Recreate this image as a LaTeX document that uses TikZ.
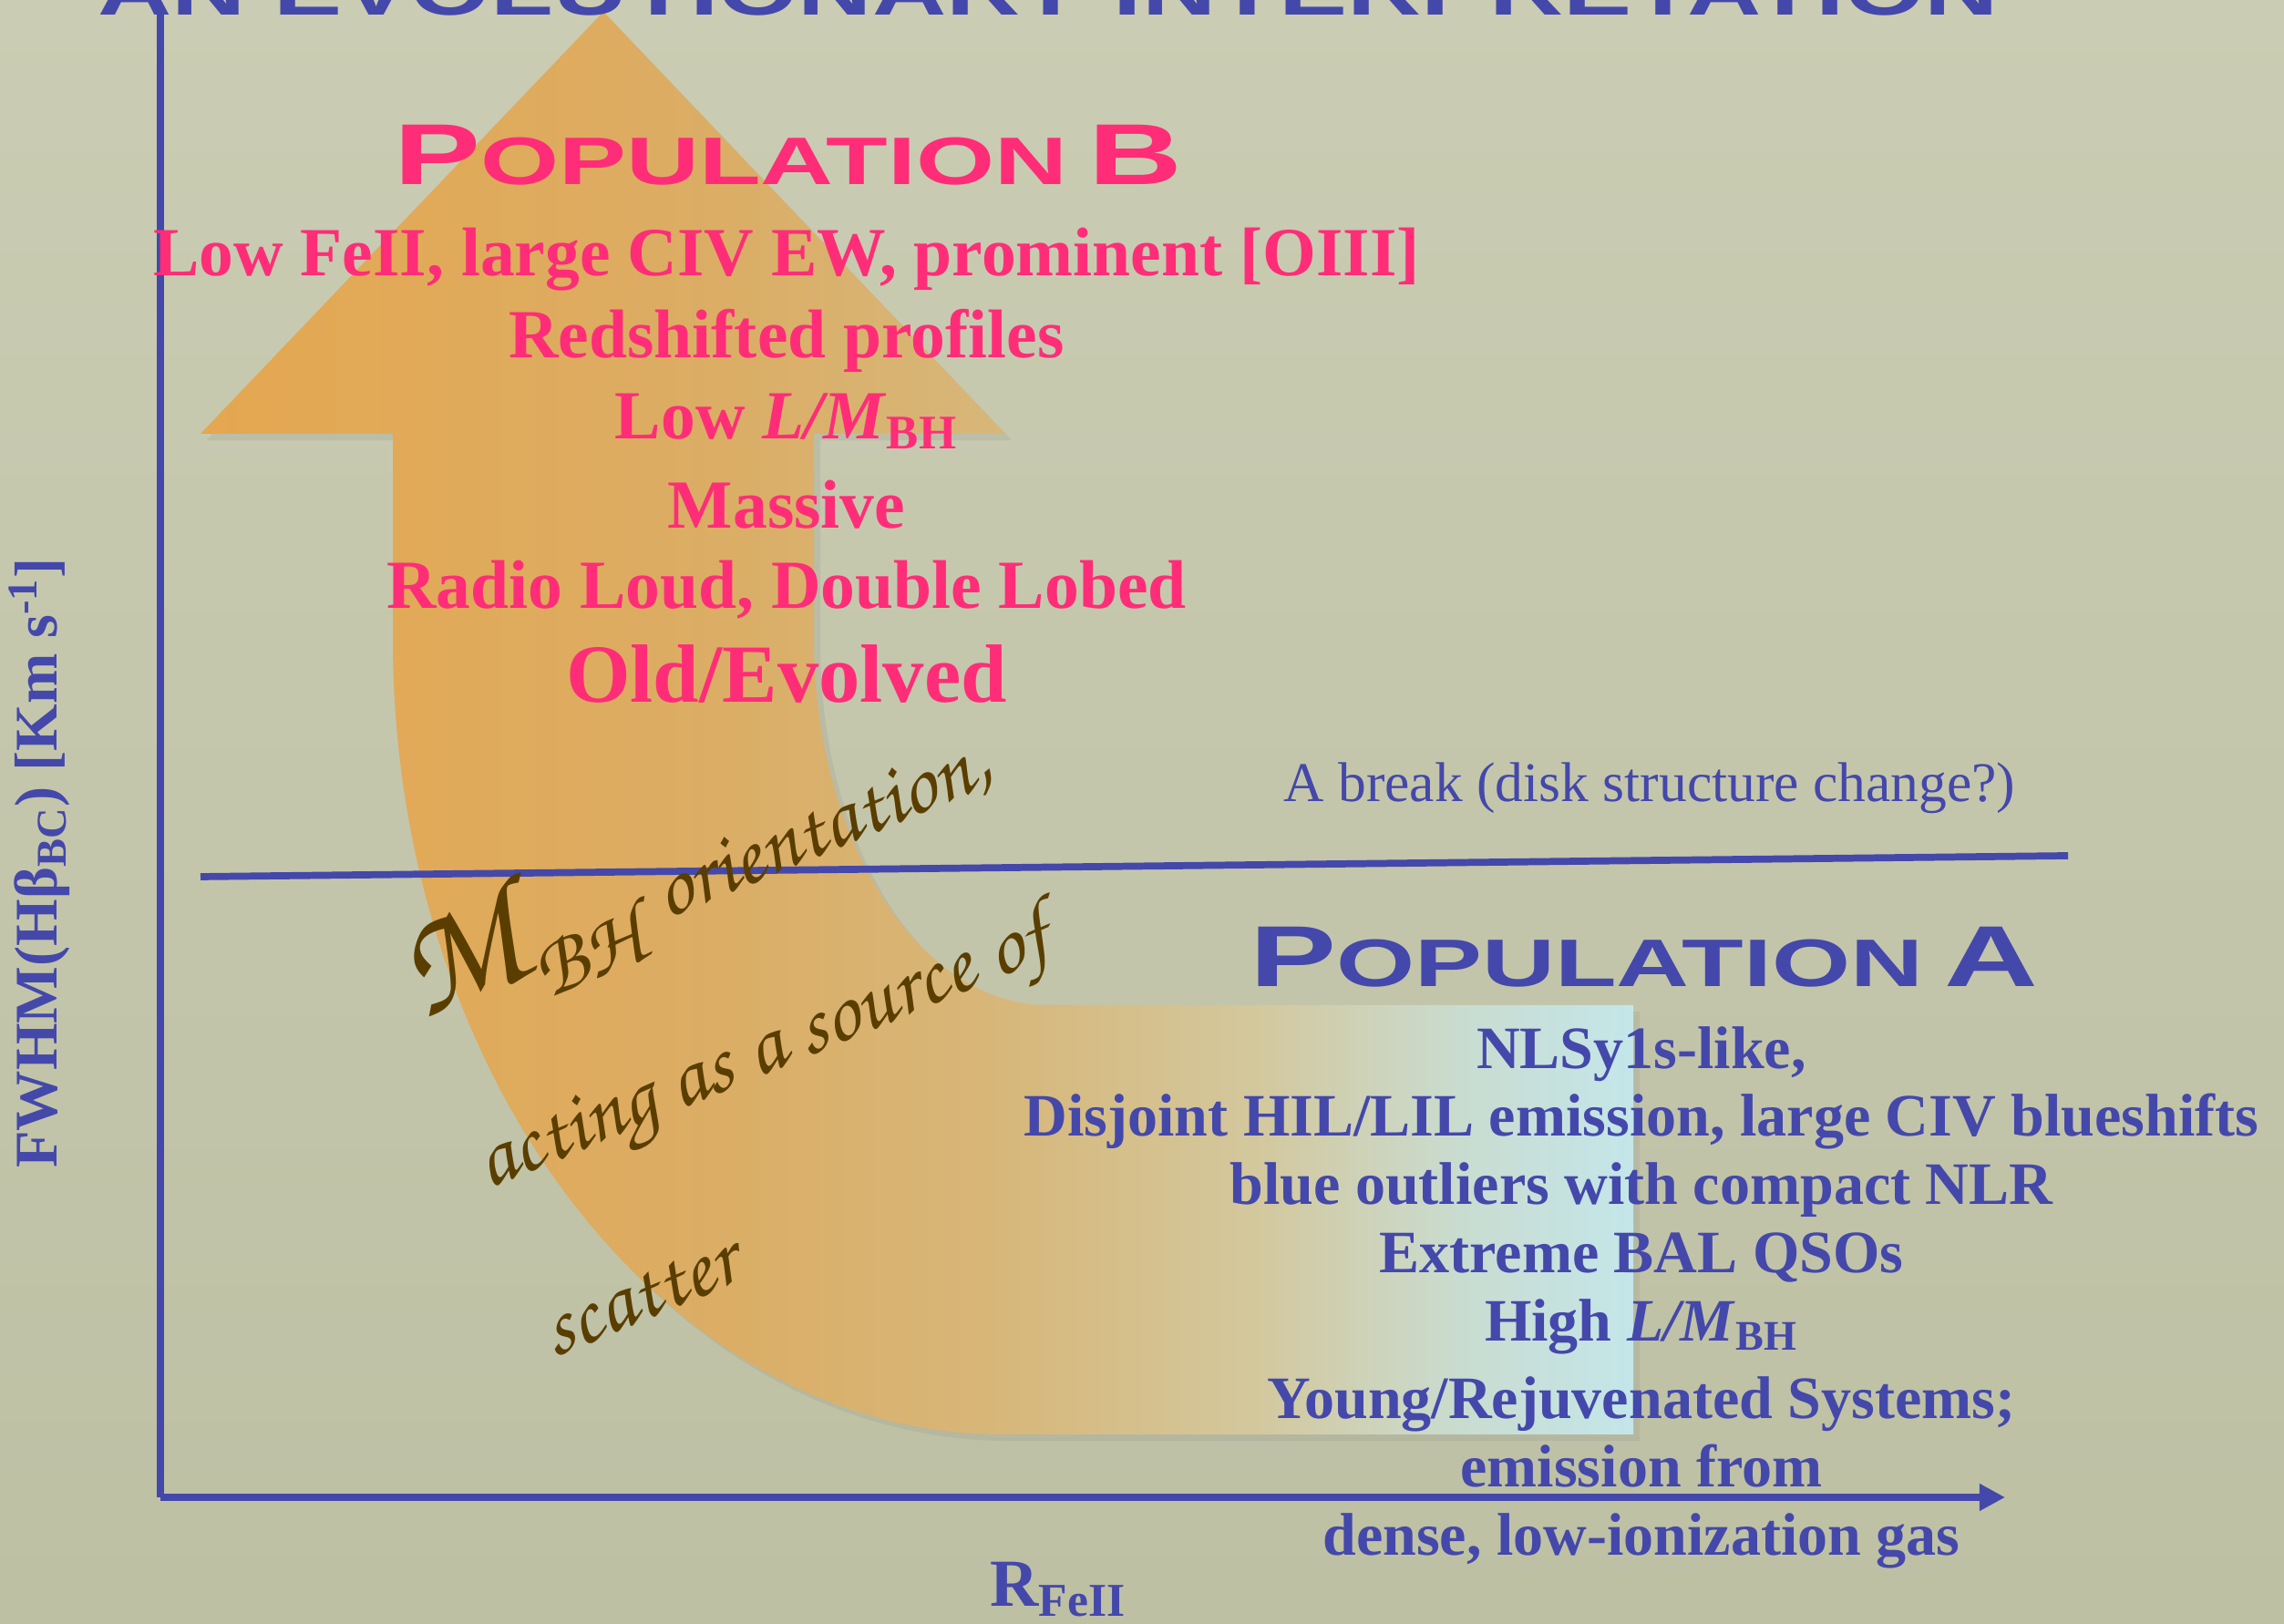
\documentclass[tikz,border=0pt]{standalone}
\usepackage[T1]{fontenc}
\usepackage{fontspec}
\setmainfont{Liberation Serif}
\newfontfamily\capsfont{Liberation Sans}
\usepackage{xcolor}
\usepackage{tikz}
\usetikzlibrary{arrows.meta, shadows}

\definecolor{slideBg}{RGB}{202,204,179}
\definecolor{slideBgLow}{RGB}{189,192,163}
\definecolor{axisBlue}{RGB}{68,72,170}
\definecolor{popPink}{RGB}{255,45,120}
\definecolor{inkBrown}{RGB}{90,62,0}
\definecolor{arrowA}{RGB}{229,167,80}
\definecolor{arrowB}{RGB}{219,173,101}
\definecolor{arrowC}{RGB}{215,183,122}
\definecolor{arrowD}{RGB}{211,200,158}
\definecolor{arrowE}{RGB}{201,220,208}
\definecolor{arrowF}{RGB}{196,230,233}

% orange -> sand -> pale cyan, left to right
\pgfdeclarehorizontalshading{arrowfade}{100bp}{color(0bp)=(arrowA); color(25bp)=(arrowA);
  color(43bp)=(arrowB); color(53bp)=(arrowC); color(62bp)=(arrowD); color(69bp)=(arrowE);
  color(75bp)=(arrowF); color(100bp)=(arrowF)}

\newcommand{\popname}[1]{{\fontsize{27}{27}\selectfont P}{\fontsize{21}{21}\selectfont OPULATION}\hspace{0.45em}{\fontsize{27}{27}\selectfont #1}}
\newcommand{\calligr}{\fontencoding{T1}\fontfamily{pzc}\fontseries{mb}\fontshape{it}\selectfont}

\begin{document}
\begin{tikzpicture}[
      axisline/.style={
          draw=axisBlue,
          line width=2.2pt
      },
      popbox/.style={
          font=\capsfont\bfseries,
          xscale=1.5,
          anchor=base
      },
      pinkline/.style={
          text=popPink,
          font=\bfseries\fontsize{21.5}{25}\selectfont,
          anchor=base
      },
      blueline/.style={
          text=axisBlue,
          font=\bfseries\fontsize{18.8}{21}\selectfont,
          anchor=base
      },
      inkline/.style={
          text=inkBrown,
          font=\calligr\fontsize{27}{30}\selectfont,
          rotate=22.5,
          anchor=base west,
          inner sep=0pt
      }
  ]
      % --- Slide background ---
      \shade[top color=slideBg, bottom color=slideBgLow] (-1.76,-1.39) rectangle (23.30,16.43);
      \useasboundingbox (-1.76,-1.39) rectangle (23.30,16.43);

      % --- Bent arrow: up from Population A to Population B ---
      \shade[shading=arrowfade, drop shadow={opacity=0.15, shadow xshift=2pt, shadow yshift=-2pt}]
          (4.86,16.30) -- (9.27,11.67) -- (7.17,11.67) -- (7.17,9.43)
          arc[start angle=180, end angle=270, x radius=2.57, y radius=4.03]
          -- (16.16,5.40) -- (16.16,0.69) -- (9.24,0.69)
          arc[start angle=270, end angle=180, x radius=6.69, y radius=8.74]
          -- (2.55,11.67) -- (0.44,11.67) -- cycle;

      % --- Axes and break ---
      \coordinate (origin) at (0,0);
      \coordinate (ytop) at (0,16.28);
      \coordinate (xend) at (20.24,0);
      \coordinate (breakL) at (0.44,6.81);
      \coordinate (breakR) at (20.93,7.04);

      \draw[axisline] (ytop) -- (origin);
      \draw[axisline, -{Triangle[length=8pt, width=8pt]}] (origin) -- (xend);
      \draw[axisline] (breakL) -- (breakR);

      \node[rotate=90, anchor=base, text=axisBlue, font=\bfseries\fontsize{18.9}{18.9}\selectfont] (ylab)
          at (-1.13,6.96) {FWHM(Hβ\textsubscript{BC}) [Km s\textsuperscript{-1}]};
      \node[anchor=base west, text=axisBlue, font=\bfseries\fontsize{21}{21}\selectfont] (xlab)
          at (8.98,-1.20) {R\textsubscript{FeII}};

      % --- Title (runs off the top edge) ---
      \node[popbox, xscale=0.97, text=axisBlue] (title) at (9.74,16.26)
          {\fontsize{22}{22}\selectfont AN EVOLUTIONARY INTERPRETATION};

      % --- Population B ---
      \node[popbox, text=popPink] (popB) at (6.89,14.40) {\popname{B}};
      \node[pinkline] (b1) at (6.87,13.40) {Low FeII, large CIV EW, prominent [OIII]};
      \node[pinkline] (b2) at (6.87,12.50) {Redshifted profiles};
      \node[pinkline] (b3) at (6.87,11.61) {Low \textit{L/M}\textsubscript{BH}};
      \node[pinkline] (b4) at (6.87,10.63) {Massive};
      \node[pinkline] (b5) at (6.87,9.75) {Radio Loud, Double Lobed};
      \node[pinkline, font=\bfseries\fontsize{25.8}{25.8}\selectfont] (b6) at (6.87,8.72) {Old/Evolved};

      % --- Break label ---
      \node[anchor=base, text=axisBlue, font=\fontsize{17.5}{17.5}\selectfont] (breaklbl)
          at (16.34,7.63) {A break (disk structure change?)};

      % --- Population A ---
      \node[popbox, text=axisBlue] (popA) at (16.28,5.60) {\popname{A}};
      \node[blueline] (a1) at (16.25,4.70) {NLSy1s-like,};
      \node[blueline] (a2) at (16.25,3.96) {Disjoint HIL/LIL emission, large CIV blueshifts};
      \node[blueline] (a3) at (16.25,3.21) {blue outliers with compact NLR};
      \node[blueline] (a4) at (16.25,2.46) {Extreme BAL QSOs};
      \node[blueline] (a5) at (16.25,1.71) {High \textit{L/M}\textsubscript{BH}};
      \node[blueline] (a6) at (16.25,0.86) {Young/Rejuvenated Systems;};
      \node[blueline] (a7) at (16.25,0.11) {emission from};
      \node[blueline] (a8) at (16.25,-0.64) {dense, low-ionization gas};

      % --- Scatter note along the bend ---
      \node[inkline] (ink1) at (2.86,5.23)
          {{\fontsize{46}{46}\selectfont M}\raisebox{-9pt}{BH}\hspace{0.35em}orientation,};
      \node[inkline] (ink2) at (3.59,3.38) {acting as a source of};
      \node[inkline] (ink3) at (4.32,1.53) {scatter};

  \end{tikzpicture}
\end{document}
